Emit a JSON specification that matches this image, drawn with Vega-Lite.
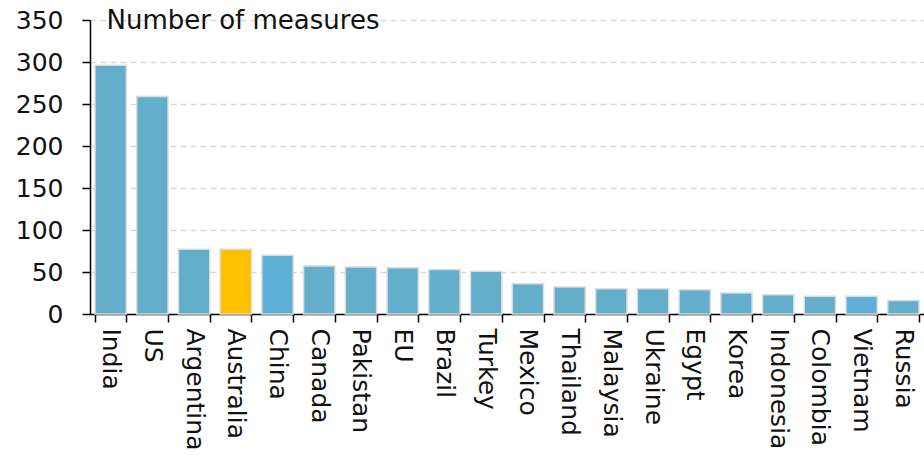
{
  "$schema": "https://vega.github.io/schema/vega-lite/v6.json",
  "width": 834,
  "height": 294,
  "autosize": {"type": "none"},
  "padding": {"left": 90, "top": 20, "right": 0, "bottom": 160},
  "background": "white",
  "data": {
    "values": [
      {"country": "India", "measures": 296, "group": "other"},
      {"country": "US", "measures": 259, "group": "other"},
      {"country": "Argentina", "measures": 77, "group": "other"},
      {"country": "Australia", "measures": 77, "group": "Australia"},
      {"country": "China", "measures": 70, "group": "alt"},
      {"country": "Canada", "measures": 57, "group": "other"},
      {"country": "Pakistan", "measures": 56, "group": "other"},
      {"country": "EU", "measures": 55, "group": "other"},
      {"country": "Brazil", "measures": 53, "group": "other"},
      {"country": "Turkey", "measures": 51, "group": "other"},
      {"country": "Mexico", "measures": 36, "group": "other"},
      {"country": "Thailand", "measures": 32, "group": "other"},
      {"country": "Malaysia", "measures": 30, "group": "other"},
      {"country": "Ukraine", "measures": 30, "group": "other"},
      {"country": "Egypt", "measures": 29, "group": "other"},
      {"country": "Korea", "measures": 25, "group": "other"},
      {"country": "Indonesia", "measures": 23, "group": "other"},
      {"country": "Colombia", "measures": 21, "group": "other"},
      {"country": "Vietnam", "measures": 21, "group": "alt"},
      {"country": "Russia", "measures": 16, "group": "other"}
    ]
  },
  "mark": {"type": "bar", "stroke": "#dcdcdc", "strokeWidth": 1.5},
  "encoding": {
    "x": {
      "field": "country",
      "type": "nominal",
      "sort": null,
      "scale": {"paddingInner": 0.25, "paddingOuter": 0.12},
      "axis": {
        "title": null,
        "labelAngle": 90,
        "labelAlign": "left",
        "labelBaseline": "middle",
        "labelFont": "DejaVu Sans",
        "labelFontSize": 25,
        "labelColor": "#111111",
        "labelPadding": 6,
        "labelOverlap": false,
        "tickBand": "extent",
        "tickColor": "black",
        "tickSize": 8,
        "tickWidth": 1.5,
        "domainColor": "black",
        "domainWidth": 1.5,
        "grid": false
      }
    },
    "y": {
      "field": "measures",
      "type": "quantitative",
      "scale": {"domain": [0, 350], "nice": false},
      "axis": {
        "values": [0, 50, 100, 150, 200, 250, 300, 350],
        "title": "Number of measures",
        "titleAngle": 0,
        "titleAlign": "left",
        "titleBaseline": "middle",
        "titleX": 16,
        "titleY": 0,
        "titleFont": "DejaVu Sans",
        "titleFontSize": 26,
        "titleFontWeight": "normal",
        "titleColor": "#111111",
        "labelFont": "DejaVu Sans",
        "labelFontSize": 25,
        "labelColor": "#111111",
        "labelPadding": 19,
        "labelOverlap": false,
        "tickColor": "black",
        "tickSize": 8,
        "tickWidth": 1.5,
        "domainColor": "black",
        "domainWidth": 1.5,
        "grid": true,
        "gridColor": "#d9d9d9",
        "gridDash": [6, 4],
        "gridWidth": 1.5
      }
    },
    "color": {
      "field": "group",
      "type": "nominal",
      "scale": {"domain": ["other", "Australia", "alt"], "range": ["#62AECB", "#FFC000", "#5FB0D8"]},
      "legend": null
    }
  },
  "config": {"view": {"stroke": null}}
}
